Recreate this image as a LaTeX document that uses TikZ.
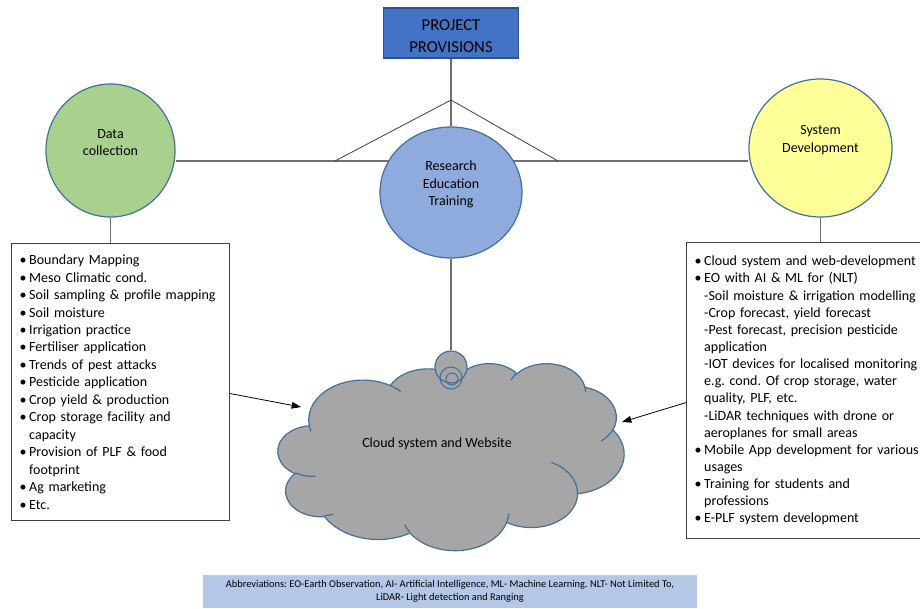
\documentclass[tikz,border=0pt]{standalone}
\usepackage{fontspec}
\setmainfont{Carlito}
\usepackage{tikz}
\usetikzlibrary{arrows.meta, positioning, shapes.geometric, backgrounds}

\definecolor{provblue}{HTML}{4472C4}
\definecolor{provedge}{HTML}{2F528F}
\definecolor{edgeblue}{HTML}{41719C}
\definecolor{datagreen}{HTML}{A9D18E}
\definecolor{resblue}{HTML}{8FAADC}
\definecolor{sysyellow}{HTML}{FFFF99}
\definecolor{cloudgray}{HTML}{A6A6A6}
\definecolor{abbrblue}{HTML}{B4C7E7}
\definecolor{linkgray}{HTML}{707070}
\definecolor{boxgray}{HTML}{404040}

\frenchspacing
\newcommand{\bul}{\textbullet\hspace{2pt}}
\newcommand{\ind}{\phantom{\bul}}
% one puff of the cloud: x radius, y radius, start and sweep angle (measured from the centre)
\newcommand{\puffarc}[4]{%
  \pgfextra{%
    \pgfmathsetmacro{\cldA}{atan2((#1)*sin(#3),(#2)*cos(#3))}%
    \pgfmathsetmacro{\cldB}{atan2((#1)*sin(#3+#4),(#2)*cos(#3+#4))}%
    \pgfmathsetmacro{\cldB}{\cldB<\cldA ? \cldB+360 : \cldB}%
    \global\let\cldA\cldA \global\let\cldB\cldB}%
  arc[x radius=#1, y radius=#2, start angle=\cldA, end angle=\cldB]}

\begin{document}
\begin{tikzpicture}[
    x=0.75pt, y=-0.75pt,
    every node/.style={font=\fontsize{10.5}{13.1}\selectfont},
    bubble/.style={ellipse, draw=edgeblue, line width=0.9pt, inner sep=0pt},
    lbl/.style={align=center, yshift=6pt},
    listbox/.style={rectangle, draw=boxgray, line width=0.9pt, align=left,
                    anchor=north west, inner xsep=6pt},
    link/.style={draw=linkgray, line width=0.8pt},
    arrow/.style={-{Triangle[length=7pt,width=5pt]}, line width=0.6pt},
    cloudline/.style={draw=edgeblue, line width=0.9pt}
  ]
  \useasboundingbox (0,0) rectangle (920,608);

  \node[rectangle, draw=provedge, fill=provblue, line width=0.8pt,
        minimum width=101.25pt, minimum height=37.5pt,
        label={[align=center, yshift=-2.2pt, font=\fontsize{12.5}{16.5}\selectfont]center:{PROJECT\\PROVISIONS}}]
        (pp) at (451,33) {};

  \node[bubble, fill=datagreen, minimum width=96.75pt, minimum height=99.75pt,
        label={[lbl]center:{Data\\collection}}] (dc) at (110.5,150.5) {};
  \node[bubble, fill=resblue, minimum width=106.5pt, minimum height=98.25pt,
        label={[lbl]center:{Research\\Education\\Training}}] (re) at (451,192.5) {};
  \node[bubble, fill=sysyellow, minimum width=107.25pt, minimum height=103.5pt,
        label={[lbl]center:{System\\Development}}] (sd) at (820.5,148) {};

  \coordinate (apex) at (451,100);
  \coordinate (hl) at (335,161);
  \coordinate (hr) at (558,161);

  % data collection list
  \node[listbox, text width=151.5pt, minimum height=207.75pt] (dcbox) at (11,243) {%
    \bul Boundary Mapping\\
    \bul Meso Climatic cond.\\
    \bul Soil sampling \& profile mapping\\
    \bul Soil moisture\\
    \bul Irrigation practice\\
    \bul Fertiliser application\\
    \bul Trends of pest attacks\\
    \bul Pesticide application\\
    \bul Crop yield \& production\\
    \bul Crop storage facility and\\
    \ind capacity\\
    \bul Provision of PLF \& food\\
    \ind footprint\\
    \bul Ag marketing\\
    \bul Etc.};

  % system development list
  \node[listbox, text width=205pt, minimum height=222pt,
        font=\fontsize{10.5}{12.85}\selectfont] (sdbox) at (686,242) {%
    \bul Cloud system and web-development\\
    \bul EO with AI \& ML for (NLT)\\
    \ind -Soil moisture \& irrigation modelling\\
    \ind -Crop forecast, yield forecast\\
    \ind -Pest forecast, precision pesticide\\
    \ind application\\
    \ind -IOT devices for localised monitoring\\
    \ind e.g. cond. Of crop storage, water\\
    \ind quality, PLF, etc.\\
    \ind -LiDAR techniques with drone or\\
    \ind aeroplanes for small areas\\
    \bul Mobile App development for various\\
    \ind usages\\
    \bul Training for students and\\
    \ind professions\\
    \bul E-PLF system development};

  % cloud
  \begin{scope}[shift={(278,363)}, x=0.06007pt, y=-0.032465pt]
    \path[cloudline, fill=cloudgray] (390,1437)
      \puffarc{675.3}{919.0}{-190.487}{123.781}
      \puffarc{533.3}{726.7}{-144.102}{89.945}
      \puffarc{436.5}{594.5}{-145.808}{99.723}
      \puffarc{485.7}{659.5}{-130.986}{117.242}
      \puffarc{533.3}{727.3}{-78.709}{109.027}
      \puffarc{677.5}{922.0}{-46.267}{130.269}
      \puffarc{578.5}{786.7}{0.625}{114.033}
      \puffarc{675.2}{921.5}{22.452}{115.173}
      \puffarc{772.0}{1054.3}{66.243}{75.711}
      \puffarc{436.0}{591.8}{-274.942}{146.736}
      \puffarc{434.5}{594.5}{-246.829}{152.519}
      -- cycle;
    \path[cloudline]
      (469.3,2617.7) \puffarc{434.5}{594.5}{86.742}{26.430}
      (692.8,3489.9) \puffarc{436.0}{591.8}{73.610}{11.447}
      (1647.8,3909.0) \puffarc{675.2}{921.5}{137.624}{14.081}
      (2882.7,3475.1) \puffarc{675.2}{921.5}{6.453}{15.998}
      (3412.9,2295.4) \puffarc{578.5}{786.7}{-70.292}{70.917}
      (4179.8,1535.4) \puffarc{533.3}{727.3}{30.318}{27.752}
      (3832.4,542.6) \puffarc{485.7}{659.5}{-13.744}{14.851}
      (2907.8,395.2) \puffarc{485.7}{659.5}{-149.181}{18.196}
      (2214.1,472.0) \puffarc{436.5}{594.5}{-163.494}{17.687}
      (1400.0,519.2) \puffarc{675.3}{919.0}{-66.707}{12.319}
      (412.7,1578.9) \puffarc{675.3}{919.0}{157.654}{11.858};
  \end{scope}
  \node (web) at (437,444) {Cloud system and Website};

  \node[circle, draw=edgeblue, fill=cloudgray, line width=0.9pt, minimum size=24pt, inner sep=0pt] (bub) at (451,367) {};
  \node[circle, draw=edgeblue, line width=0.8pt, minimum size=16.5pt, inner sep=0pt] (bubm) at (451,378) {};
  \node[circle, draw=edgeblue, line width=0.8pt, minimum size=9pt, inner sep=0pt] (bubs) at (452,379) {};

  \coordinate (webw) at (301,407);
  \coordinate (webe) at (622,422);

  \node[fill=abbrblue, align=center, minimum width=370.5pt, minimum height=24.75pt,
        font=\fontsize{7.8}{9.8}\selectfont] (abbr) at (450,591.5)
    {Abbreviations: EO-Earth Observation, AI- Artificial Intelligence, ML- Machine Learning. NLT- Not Limited To,\\
     LiDAR- Light detection and Ranging};

  \begin{scope}[on background layer]
    \draw[link] (pp.south) -- (re.north);
    \draw[link] (dc.east |- hl) -- (sd.west |- hr);
    \draw[link, draw=black!75, line width=0.6pt] (hl) -- (apex) -- (hr);
    \draw[link] (dc.south) -- (dc.south |- dcbox.north);
    \draw[link] (sd.south) -- (sd.south |- sdbox.north);
    \draw[link] (re.south) -- (bub.north);
  \end{scope}

  \draw[arrow] ([yshift=-8.6pt]dcbox.east) -- (webw);
  \draw[arrow] ([yshift=-9pt]sdbox.west) -- (webe);

\end{tikzpicture}
\end{document}
